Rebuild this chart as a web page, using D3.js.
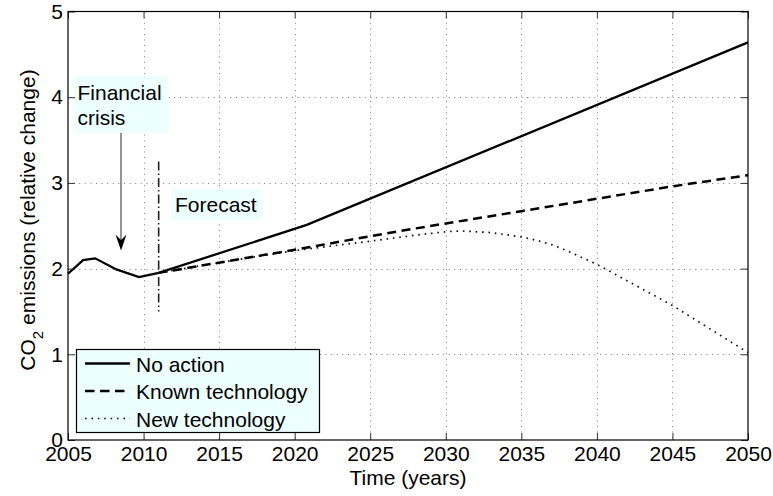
<!DOCTYPE html>
<html>
<head>
<meta charset="utf-8">
<script src="https://cdn.jsdelivr.net/npm/d3@7"></script>
<style>
  body { margin: 0; background: #fff; }
  text { font-family: "Liberation Sans", Arial, sans-serif; fill: #000; }
</style>
</head>
<body>
<svg id="mainSVG" width="773" height="496"></svg>
<script>
// values
var actionYears = [2005, 2006, 2006.8, 2008.2, 2009.7, 2011, 2020.8, 2050];
var noAction = [1.94, 2.10, 2.12, 1.99, 1.90, 1.95, 2.51, 4.64];
var knownYears = [2011, 2020, 2027, 2035, 2045, 2050];
var knownTech = [1.95, 2.22, 2.44, 2.67, 2.96, 3.09];
var newYears = [2011, 2015, 2020, 2025, 2028, 2030, 2031, 2033, 2035, 2036, 2037, 2038, 2039, 2040, 2045, 2050];
var newTech = [1.95, 2.07, 2.21, 2.32, 2.39, 2.43, 2.44, 2.42, 2.37, 2.33, 2.28, 2.21, 2.13, 2.05, 1.57, 1.02];
var xTicks = [2005, 2010, 2015, 2020, 2025, 2030, 2035, 2040, 2045, 2050];
var yTicks = [0, 1, 2, 3, 4, 5];
var legendLabels = ["No action", "Known technology", "New technology"];
var forecastYear = 2011;
var forecastRange = [1.5, 3.25];

// plot area (names avoid window.top etc.)
var plotL = 68, plotR = 748, plotT = 11.5, plotB = 440;
var fontSize = 21;
var boxFill = "#edffff";

var svg = d3.select("#mainSVG");

var x = d3.scaleLinear().domain([2005, 2050]).range([plotL, plotR]);
var y = d3.scaleLinear().domain([0, 5]).range([plotB, plotT]);

// dotted grid
var grid = svg.append("g").attr("stroke", "#808080").attr("stroke-width", 1).attr("stroke-dasharray", "1,4.6");
grid.selectAll("line.gx")
    .data(xTicks.slice(1, -1))
    .enter().append("line")
    .attr("x1", function(d) { return Math.round(x(d)) + 0.5; })
    .attr("x2", function(d) { return Math.round(x(d)) + 0.5; })
    .attr("y1", plotT).attr("y2", plotB);
grid.selectAll("line.gy")
    .data(yTicks.slice(1, -1))
    .enter().append("line")
    .attr("y1", function(d) { return Math.round(y(d)) + 0.5; })
    .attr("y2", function(d) { return Math.round(y(d)) + 0.5; })
    .attr("x1", plotL).attr("x2", plotR);

// the three series
var series = [
    { xs: actionYears, ys: noAction, dash: null, width: 2.3, color: "#000" },
    { xs: knownYears, ys: knownTech, dash: "9,5.5", width: 2.5, color: "#000" },
    { xs: newYears, ys: newTech, dash: "1.6,4.8", width: 1.7, color: "#111" }
];
var line = d3.line()
    .x(function(d) { return x(d[0]); })
    .y(function(d) { return y(d[1]); });

series.slice().reverse().forEach(function(s) {
    svg.append("path")
        .datum(d3.zip(s.xs, s.ys))
        .attr("d", line)
        .attr("fill", "none")
        .attr("stroke", s.color)
        .attr("stroke-width", s.width)
        .attr("stroke-dasharray", s.dash);
});

// forecast marker, dash-dot
svg.append("line")
    .attr("x1", x(forecastYear)).attr("x2", x(forecastYear))
    .attr("y1", y(forecastRange[1])).attr("y2", y(forecastRange[0]))
    .attr("stroke", "#222")
    .attr("stroke-width", 1.6)
    .attr("stroke-dasharray", "9,3,1.5,3");

// text boxes
svg.append("rect")
    .attr("x", 74).attr("y", 76).attr("width", 94).attr("height", 57)
    .attr("fill", boxFill);
svg.append("text")
    .attr("x", 77.5).attr("y", 100)
    .style("font-size", fontSize + "px")
    .text("Financial");
svg.append("text")
    .attr("x", 77.5).attr("y", 124.5)
    .style("font-size", fontSize + "px")
    .text("crisis");

svg.append("rect")
    .attr("x", 171).attr("y", 189.5).attr("width", 91).attr("height", 31)
    .attr("fill", boxFill);
svg.append("text")
    .attr("x", 175).attr("y", 211.5)
    .style("font-size", fontSize + "px")
    .text("Forecast");

// arrow from the crisis label
svg.append("line")
    .attr("x1", 121).attr("x2", 121)
    .attr("y1", 133).attr("y2", 243)
    .attr("stroke", "#707070")
    .attr("stroke-width", 1.5);
svg.append("path")
    .attr("d", "M121,250.5 L115.5,234.5 L121,240 L126.5,234.5 Z")
    .attr("fill", "#000");

// axes, ticks inside on all four sides
var tickCol = "#333";
var axB = svg.append("g")
    .attr("transform", "translate(0," + plotB + ")")
    .call(d3.axisBottom(x).tickValues(xTicks).tickSize(-7).tickPadding(6).tickFormat(d3.format("d")));
var axL = svg.append("g")
    .attr("transform", "translate(" + plotL + ",0)")
    .call(d3.axisLeft(y).tickValues(yTicks).tickSize(-7).tickPadding(5).tickFormat(d3.format("d")));
var axT = svg.append("g")
    .attr("transform", "translate(0," + plotT + ")")
    .call(d3.axisTop(x).tickValues(xTicks).tickSize(-7).tickFormat(""));
var axR = svg.append("g")
    .attr("transform", "translate(" + plotR + ",0)")
    .call(d3.axisRight(y).tickValues(yTicks).tickSize(-7).tickFormat(""));
[axB, axL, axT, axR].forEach(function(a) {
    a.select(".domain").remove();
    a.selectAll(".tick line").attr("stroke", tickCol);
    a.selectAll("text")
        .attr("fill", "#000")
        .style("font-size", fontSize + "px")
        .style("font-family", "Liberation Sans, Arial, sans-serif");
});

svg.append("rect")
    .attr("x", plotL).attr("y", plotT)
    .attr("width", plotR - plotL).attr("height", plotB - plotT)
    .attr("fill", "none")
    .attr("stroke", "#000")
    .attr("stroke-width", 1.2);

// axis labels
svg.append("text")
    .attr("x", (plotL + plotR) / 2).attr("y", 485)
    .attr("text-anchor", "middle")
    .style("font-size", fontSize + "px")
    .text("Time (years)");

var yLab = svg.append("text")
    .attr("transform", "translate(35,220) rotate(-90)")
    .attr("text-anchor", "middle")
    .style("font-size", fontSize + "px");
yLab.append("tspan").text("CO");
yLab.append("tspan").attr("dy", 8).style("font-size", "15px").text("2");
yLab.append("tspan").attr("dy", -8).text(" emissions (relative change)");

// legend
var legend = svg.append("g");
legend.append("rect")
    .attr("x", 76.5).attr("y", 349.5).attr("width", 243).attr("height", 83)
    .attr("fill", boxFill)
    .attr("stroke", "#000")
    .attr("stroke-width", 1.2);
legendLabels.forEach(function(lab, i) {
    var ly = 363.5 + i * 27.5;
    var s = series[i];
    legend.append("line")
        .attr("x1", 85).attr("x2", 130)
        .attr("y1", ly).attr("y2", ly)
        .attr("stroke", s.color)
        .attr("stroke-width", s.width)
        .attr("stroke-dasharray", i == 1 ? "9.5,5.5" : s.dash);
    legend.append("text")
        .attr("x", 136).attr("y", ly + 8.3)
        .style("font-size", fontSize + "px")
        .text(lab);
});
</script>
</body>
</html>
